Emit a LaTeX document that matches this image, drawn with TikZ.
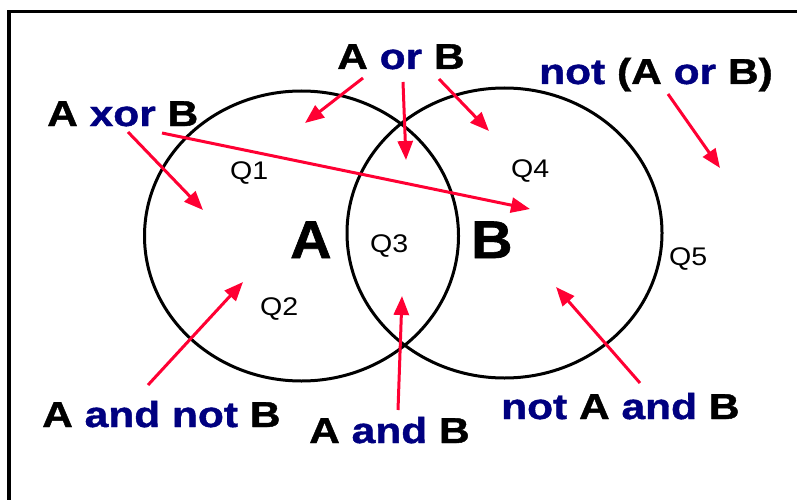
\documentclass[tikz,border=0pt]{standalone}
\usepackage{fontspec}
\setmainfont{Liberation Sans}[FakeStretch=1.12]
\newfontfamily\lblfont{Liberation Sans Bold}[FakeStretch=1.18,FakeBold=1.2]
\newfontfamily\setfont{Liberation Sans Bold}[FakeStretch=1.08,FakeBold=1.2]
\usetikzlibrary{arrows.meta}
\definecolor{navy}{RGB}{0,0,128}
\definecolor{arrred}{RGB}{255,0,51}
\tikzset{
  biglabel/.style={anchor=base west,inner sep=0pt,font=\fontsize{36}{40}\lblfont},
  setlabel/.style={anchor=base west,inner sep=0pt,font=\fontsize{53}{58}\setfont},
  qlabel/.style={anchor=base west,inner sep=0pt,font=\fontsize{25.5}{28}\selectfont},
  setline/.style={line width=3pt},
  pointer/.style={arrred,line width=3pt,-{Triangle[length=19pt,width=15pt]}}
}
\newcommand{\nv}[1]{\textcolor{navy}{#1}}
\begin{document}
\begin{tikzpicture}[x=1pt,y=-1pt]
\useasboundingbox (0,0) rectangle (797,500);
\fill[white] (0,0) rectangle (797,500);
\draw[line width=3.5pt] (9,11.5) rectangle (830,530);
% sets
\draw[setline] (301.5,236) ellipse [x radius=157,y radius=145];
\draw[setline] (504.5,233) ellipse [x radius=157.5,y radius=145];
% labels
\node[setlabel] (bigA) at (290,258) {A};
\node[setlabel] (bigB) at (471,258) {B};
\node[qlabel] (q1) at (230,179) {Q1};
\node[qlabel] (q2) at (260,315) {Q2};
\node[qlabel] (q3) at (370,252) {Q3};
\node[qlabel] (q4) at (511,177) {Q4};
\node[qlabel] (q5) at (669,265) {Q5};
\node[biglabel] (orT) at (337,69) {A \nv{or} B};
\node[biglabel] (notorT) at (539,84) {\nv{not} (A \nv{or} B)};
\node[biglabel] (xorT) at (47,126) {A \nv{xor} B};
\node[biglabel] (andnotT) at (42,427) {A \nv{and not} B};
\node[biglabel] (andT) at (309,443) {A \nv{and} B};
\node[biglabel] (notandT) at (501,419) {\nv{not} A \nv{and} B};
% arrow ends
\coordinate (or1s) at (363,78);   \coordinate (or1e) at (305,123);
\coordinate (or2s) at (403,82);   \coordinate (or2e) at (406,160);
\coordinate (or3s) at (439,79);   \coordinate (or3e) at (489,131);
\coordinate (x1s) at (128,132);   \coordinate (x1e) at (203,210);
\coordinate (x2s) at (162,133);   \coordinate (x2e) at (530,209);
\coordinate (nos) at (668,94);    \coordinate (noe) at (720,168);
\coordinate (ans) at (148,385);   \coordinate (ane) at (243,282);
\coordinate (abs) at (398,410);   \coordinate (abe) at (402,296);
\coordinate (nas) at (640,383);   \coordinate (nae) at (556,287);
\draw[pointer] (or1s) -- (or1e);
\draw[pointer] (or2s) -- (or2e);
\draw[pointer] (or3s) -- (or3e);
\draw[pointer] (x1s) -- (x1e);
\draw[pointer] (x2s) -- (x2e);
\draw[pointer] (nos) -- (noe);
\draw[pointer] (ans) -- (ane);
\draw[pointer] (abs) -- (abe);
\draw[pointer] (nas) -- (nae);
\end{tikzpicture}
\end{document}
